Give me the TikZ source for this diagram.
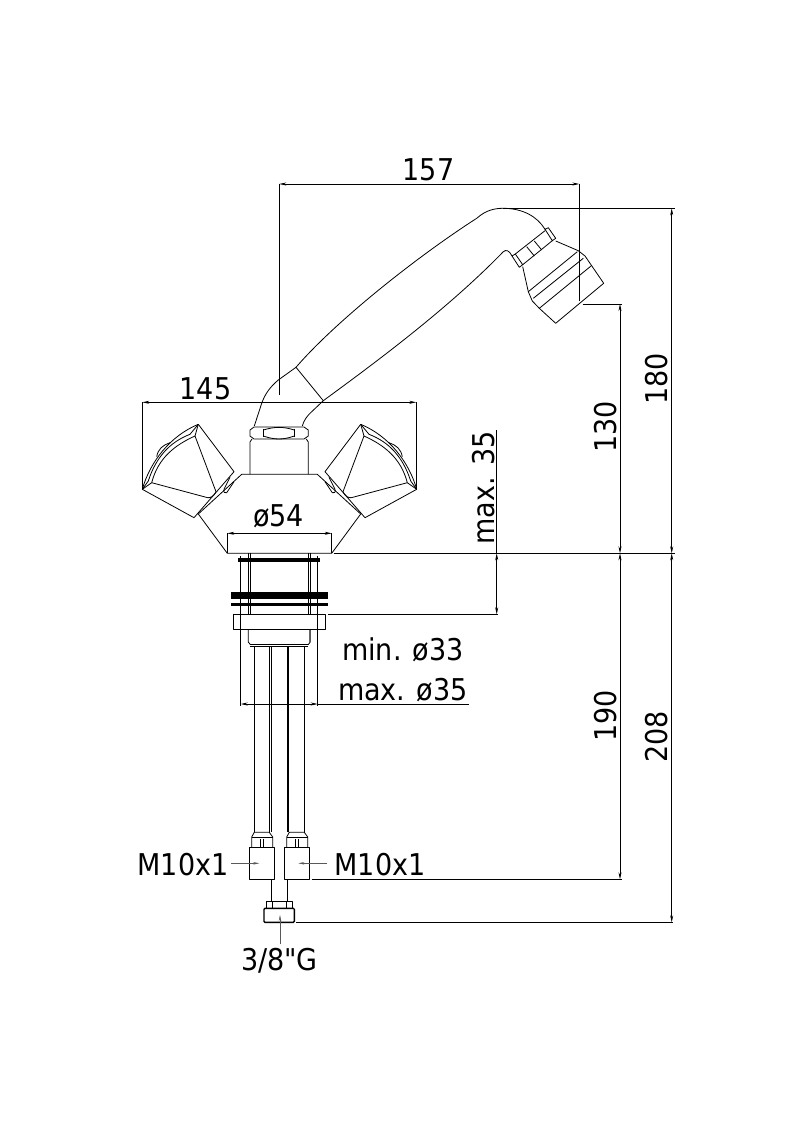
\documentclass[tikz,border=0pt]{standalone}
\usepackage{fontspec}
\newfontfamily\dimfont{DejaVu Sans Condensed}
\usetikzlibrary{arrows.meta}

\tikzset{
	outline/.style={line width=0.8pt, line join=round},
	dimline/.style={line width=0.7pt, {Stealth[length=7pt,width=3pt]}-{Stealth[length=7pt,width=3pt]}},
	extline/.style={line width=0.7pt},
	leader/.style={line width=0.7pt, color=black!65, -{Stealth[length=6pt,width=2.5pt]}},
	dimtext/.style={font=\dimfont\fontsize{30}{32}\selectfont, inner sep=0pt},
}

\newcommand{\knob}{
	\draw[outline] (198.3,424.3) -- (234,471.7) -- (194,517.7) -- (142.3,489.3);
	\draw[outline] (142.3,489.3) .. controls (150,462) and (170,436) .. (198.3,424.3);
	\draw[outline] (156.7,456.7) .. controls (158,449) and (163,445) .. (170,442.7);
	\draw[outline] (151.7,482.7) .. controls (158,458) and (175,445) .. (195,436) -- (216,491.7)
		.. controls (214,496) and (211,498) .. (207.7,497.7) -- cycle;
	\draw[outline] (148.3,481) .. controls (156,457) and (170,442) .. (190,434.3) -- (198.3,424.3);
	\draw[outline] (195,436) -- (198.3,424.3);
	\draw[outline] (142.3,489.3) -- (148.3,481);
	\draw[outline] (142.3,489.3) -- (151.7,482.7);
	\draw[outline] (230,477.3) -- (224,489.3) .. controls (223,492) and (225,494) .. (226.7,492.7) -- (234,481.7);
}

\begin{document}
\begin{tikzpicture}[x=1pt,y=-1pt]
	\useasboundingbox (0,0) rectangle (793,1123);

	% handle
	\draw[outline] (296,367.3) .. controls (335,322) and (415,258) .. (476.7,218.3)
		.. controls (486,210) and (495,208.3) .. (503,208.3)
		.. controls (522,208.3) and (537,216) .. (545,229.3);
	\draw[outline] (323.3,400.7) .. controls (365,370) and (445,312) .. (503.3,251.7)
		.. controls (506,249.5) and (509,250) .. (512,256);
	\draw[outline] (296,367.3) -- (323.3,400.7);
	\draw[outline] (296,367.3) -- (278.3,380) .. controls (270,387) and (265,394) .. (261.7,403.3) -- (254.3,426);
	\draw[outline] (323.3,400.7) -- (311.7,411.7) .. controls (307,416) and (304,420) .. (302.3,426);

	% shower head
	\draw[outline] (545,229.3) -- (548.3,227.7) -- (555.7,238.3) -- (552.3,240.7) -- cycle;
	\draw[outline] (512,256) -- (515.3,254) -- (522.7,264.7) -- (519.3,267.3) -- cycle;
	\draw[outline] (545,230.7) -- (515.3,254);
	\draw[outline] (552.3,240.7) -- (522.7,264.7);
	\draw[outline] (526.7,246.7) -- (534.3,256);
	\draw[outline] (534.3,241) -- (541.7,250);
	\draw[outline] (555.7,241) -- (578.3,250.7) -- (585,256) -- (603.7,283.3) -- (555.7,323.3)
		-- (539.3,308.3) -- (532.3,301) -- (528.3,291.7) -- (522.7,266.7);
	\draw[outline] (528.3,291.7) -- (577.3,251.7);
	\draw[outline] (533.3,298.3) -- (583.3,258.3);
	\draw[outline] (539.3,308.3) -- (591,266);

	% nut and column
	\draw[outline] (250,430) -- (254,427) -- (304,427) -- (308.3,430) -- (308.3,436) -- (304,439) -- (254,439) -- (250,436) -- cycle;
	\draw[outline] (263.3,429) -- (263.3,437);
	\draw[outline] (294.3,429) -- (294.3,437);
	\draw[outline] (263.3,430) .. controls (275,426.5) and (283,426.5) .. (294.3,430);
	\draw[outline] (263.3,436) .. controls (275,440) and (283,440) .. (294.3,436);
	\draw[outline] (250,474.3) -- (250,442) -- (252,439);
	\draw[outline] (308.3,474.3) -- (308.3,442) -- (306.3,439);

	% base
	\draw[outline] (198.3,514) -- (241.7,474.3) -- (317.3,474.3) -- (360.7,514);
	\draw[outline] (198.3,514) -- (227.3,553.3) -- (331.7,553.3) -- (360.7,514);

	% knobs
	\knob
	\begin{scope}[xshift=559pt,xscale=-1]
		\knob
	\end{scope}

	% thread and rings
	\draw[outline] (240.7,556) -- (240.7,706);
	\draw[outline] (317.7,556) -- (317.7,706);
	\draw[outline] (248.3,553.3) -- (248.3,614.3);
	\draw[outline] (250.3,553.3) -- (250.3,614.3);
	\draw[outline] (308.3,553.3) -- (308.3,614.3);
	\draw[outline] (310.3,553.3) -- (310.3,614.3);
	\fill (238,557.7) rectangle (320,562.3);
	\fill (231,592) rectangle (328,598.7);
	\fill (231,603) rectangle (328,605.7);
	\draw[outline] (233.3,614.3) rectangle (325.7,629.7);
	\draw[outline] (248.3,629.7) -- (248.3,642) -- (250.3,644.5) -- (308.3,644.5) -- (310.3,642) -- (310.3,629.7);
	\draw[outline, black!60] (309.5,629.7) -- (309.5,642);
	\draw[outline] (250.3,646) -- (308.3,646);

	% hoses
	\draw[outline] (254.3,646) -- (254.3,832.3);
	\draw[outline] (269.6,646) -- (269.6,832.3);
	\draw[outline] (271.3,646) -- (271.3,832.3);
	\draw[line width=1.6pt] (287.8,646) -- (287.8,832.3);
	\draw[outline] (304.3,646) -- (304.3,832.3);

	% hose fittings
	\foreach \hx in {0,35}{
		\draw[outline] (251.7+\hx,847.3) -- (251.7+\hx,837) -- (254.3+\hx,832.3) -- (269.3+\hx,832.3) -- (272.7+\hx,837) -- (272.7+\hx,847.3);
		\draw[outline] (251.7+\hx,837) -- (272.7+\hx,837);
		\draw[outline] (260.7+\hx,839) -- (260.7+\hx,847.3);
		\draw[outline] (263.3+\hx,839) -- (263.3+\hx,847.3);
	}
	\draw[outline] (249.3,847.3) rectangle (274.3,879.3);
	\draw[outline] (284.3,847.3) rectangle (309.7,879.3);
	\draw[outline] (271.3,879.3) -- (271.3,901.7);
	\draw[outline] (287.3,879.3) -- (287.3,901.7);
	\draw[outline] (266,908.3) rectangle (292.7,901.7);
	\draw[outline] (272.7,901.7) -- (272.7,908.3);
	\draw[outline] (286,901.7) -- (286,908.3);
	\draw[line width=1.4pt, rounded corners=1pt] (264,908.3) rectangle (294.3,922.3);

	% dimension points
	\coordinate (topL)   at (279.3,184);
	\coordinate (topR)   at (579.3,184);
	\coordinate (knobL)  at (142.3,402.3);
	\coordinate (knobR)  at (416.3,402.3);
	\coordinate (baseL)  at (227.3,533.3);
	\coordinate (baseR)  at (331.7,533.3);
	\coordinate (holeL)  at (240.7,704);
	\coordinate (holeR)  at (317.7,704);
	\coordinate (holeE)  at (469.3,704);
	\coordinate (deckT)  at (496.7,430);
	\coordinate (deckA)  at (496.7,553.3);
	\coordinate (deckB)  at (496.7,614.3);
	\coordinate (headM)  at (620,304);
	\coordinate (zeroM)  at (620,553.3);
	\coordinate (nutM)   at (620,879.3);
	\coordinate (headO)  at (671.7,208.3);
	\coordinate (zeroO)  at (671.7,553.3);
	\coordinate (nutO)   at (671.7,922.3);

	% extension lines
	\draw[extline] (279.3,395) -- (topL);
	\draw[extline] (579.3,300.7) -- (topR);
	\draw[extline] (142.3,488) -- (knobL);
	\draw[extline] (416.3,488) -- (knobR);
	\draw[extline] (227.3,553.3) -- (baseL);
	\draw[extline] (331.7,553.3) -- (baseR);
	\draw[extline] (503,208.3) -- (675,208.3);
	\draw[extline] (582.7,304) -- (622,304);
	\draw[extline] (333.7,553.3) -- (675,553.3);
	\draw[extline] (328,614.3) -- (498,614.3);
	\draw[extline] (311.7,879.3) -- (622,879.3);
	\draw[extline] (296,922.3) -- (673,922.3);

	% dimension lines
	\draw[dimline] (topL) -- (topR);
	\draw[dimline] (knobL) -- (knobR);
	\draw[dimline] (baseL) -- (baseR);
	\draw[dimline] (holeL) -- (holeR);
	\draw[extline] (holeR) -- (holeE);
	\draw[extline] (deckT) -- (deckA);
	\draw[dimline] (deckA) -- (deckB);
	\draw[dimline] (headM) -- (zeroM);
	\draw[dimline] (zeroM) -- (nutM);
	\draw[dimline] (headO) -- (zeroO);
	\draw[dimline] (zeroO) -- (nutO);

	% labels
	\node[dimtext] (lenLabel)   at (428.5,170)  {157};
	\node[dimtext] (widthLabel) at (205.5,389)  {145};
	\node[dimtext] (baseLabel)  at (278.5,516.5) {ø54};
	\node[dimtext] (minLabel)   at (403,650)  {min. ø33};
	\node[dimtext] (maxLabel)   at (403,690)  {max. ø35};
	\node[dimtext, rotate=90] (deckLabel) at (484,488) {max. 35};
	\node[dimtext, rotate=90] (h130)  at (606,427) {130};
	\node[dimtext, rotate=90] (h190)  at (606,716) {190};
	\node[dimtext, rotate=90] (h180)  at (657,379) {180};
	\node[dimtext, rotate=90] (h208)  at (657,737) {208};
	\node[dimtext] (threadL) at (183,864.5) {M10x1};
	\node[dimtext] (threadR) at (380,864.5) {M10x1};
	\node[dimtext] (inlet)   at (279.5,961) {3/8"G};

	% leaders
	\coordinate (blockL) at (259.3,863.3);
	\coordinate (blockR) at (298.3,863.3);
	\coordinate (inletT) at (280,915);
	\draw[leader] (231,863.3) -- (blockL);
	\draw[leader] (327.3,863.3) -- (blockR);
	\draw[leader] (280,944) -- (inletT);
\end{tikzpicture}
\end{document}
